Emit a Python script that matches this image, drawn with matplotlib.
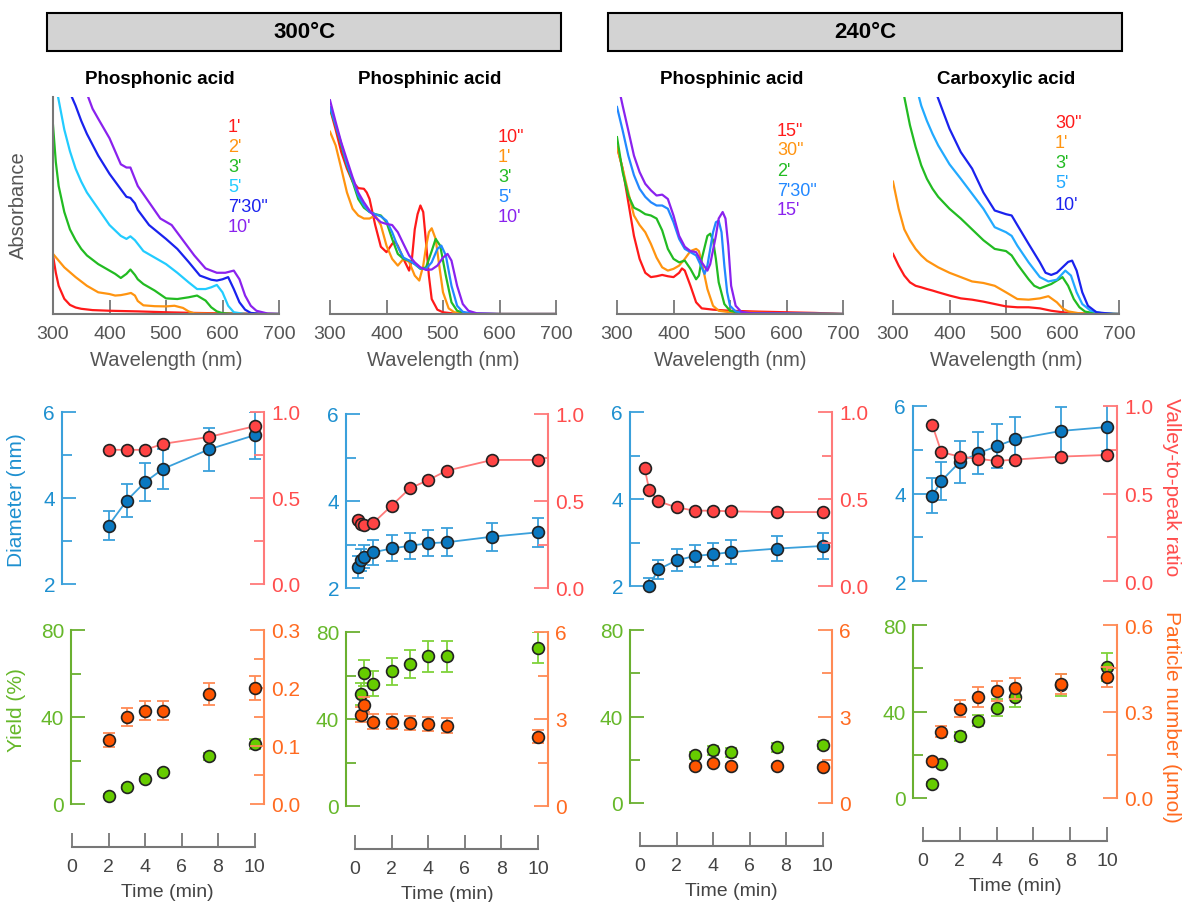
import matplotlib
matplotlib.use("Agg")
import matplotlib.pyplot as plt
from matplotlib.patches import Rectangle
from matplotlib.ticker import FormatStrFormatter

plt.rcParams['font.family'] = ['Liberation Sans', 'DejaVu Sans']

# --- UV-vis spectra, (wavelength nm, absorbance scaled to panel height) ---
# 300 C, phosphonic acid
phon_1m = [(300, .27), (305, .19), (310, .13), (320, .07), (330, .042), (340, .03), (350, .024), (370, .018),
           (400, .015), (450, .012), (500, .008), (550, .005), (600, .003), (700, 0)]
phon_2m = [(300, .277), (320, .215), (340, .17), (360, .13), (380, .10), (400, .092), (410, .085), (420, .087),
           (430, .092), (438, .097), (445, .085), (450, .06), (460, .04), (480, .036), (500, .035), (515, .038),
           (530, .028), (540, .012), (550, .003), (600, 0), (700, 0)]
phon_3m = [(300, .87), (305, .70), (310, .59), (320, .47), (330, .39), (340, .34), (350, .30), (360, .27),
           (380, .23), (400, .20), (410, .185), (420, .166), (430, .185), (437, .205), (445, .18), (450, .16),
           (460, .138), (480, .108), (500, .072), (520, .069), (540, .077), (555, .085), (570, .062), (580, .031),
           (590, .012), (600, .004), (620, 0), (700, 0)]
phon_5m = [(305, 1.05), (309, 1.0), (320, .85), (330, .75), (340, .67), (350, .61), (360, .56), (380, .485),
           (400, .41), (420, .36), (430, .346), (437, .358), (445, .34), (460, .29), (480, .26), (500, .23),
           (520, .19), (540, .146), (555, .115), (570, .115), (580, .123), (590, .134), (600, .10), (610, .038),
           (620, .008), (640, 0), (700, 0)]
phon_7m30 = [(330, 1.02), (340, .96), (350, .89), (360, .83), (380, .73), (400, .646), (420, .575), (430, .54),
             (437, .535), (445, .51), (450, .48), (470, .41), (500, .346), (520, .30), (540, .24), (560, .177),
             (580, .158), (590, .154), (600, .16), (610, .17), (620, .115), (630, .054), (640, .02), (650, .005),
             (670, 0), (700, 0)]
phon_10m = [(358, 1.03), (370, .946), (380, .90), (400, .81), (420, .69), (430, .675), (437, .675), (450, .59),
            (470, .515), (490, .44), (510, .41), (530, .34), (550, .27), (570, .21), (590, .19), (605, .19),
            (620, .20), (630, .16), (640, .085), (650, .038), (660, .015), (680, .002), (700, 0)]

# 300 C, phosphinic acid
phin_10s = [(300, .946), (310, .85), (320, .746), (330, .67), (340, .61), (350, .58), (360, .577), (365, .56),
            (370, .53), (380, .41), (390, .31), (400, .285), (410, .323), (415, .334), (420, .315), (430, .254),
            (440, .20), (445, .254), (450, .39), (455, .46), (460, .50), (465, .47), (470, .33), (475, .177),
            (480, .069), (490, .02), (500, .008), (520, .002), (550, 0), (700, 0)]
phin_1m = [(300, .84), (310, .777), (320, .67), (330, .56), (340, .485), (350, .454), (360, .44), (370, .44),
           (380, .454), (390, .41), (400, .315), (410, .254), (420, .223), (430, .254), (440, .24), (450, .177),
           (458, .154), (465, .223), (470, .31), (475, .377), (480, .395), (487, .346), (495, .192), (500, .10),
           (510, .026), (520, .008), (540, .002), (600, 0), (700, 0)]
phin_3m = [(300, .946), (310, .87), (320, .777), (330, .685), (340, .61), (350, .53), (360, .49), (370, .47),
           (380, .46), (390, .454), (400, .423), (410, .346), (420, .277), (430, .254), (440, .246), (450, .23),
           (460, .208), (470, .215), (480, .29), (487, .346), (495, .315), (505, .177), (515, .054), (525, .015),
           (540, .003), (560, 0), (700, 0)]
phin_5m = [(300, .954), (310, .87), (320, .785), (330, .69), (340, .62), (350, .546), (360, .50), (370, .47),
           (380, .46), (390, .45), (400, .43), (410, .377), (420, .31), (430, .26), (440, .246), (450, .23),
           (460, .21), (470, .208), (480, .238), (490, .30), (497, .315), (505, .27), (515, .13), (525, .038),
           (535, .01), (550, .003), (600, 0), (700, 0)]
phin_10m = [(300, .985), (310, .885), (320, .79), (330, .71), (340, .63), (350, .56), (360, .515), (370, .477),
            (380, .446), (390, .423), (400, .415), (410, .41), (420, .377), (430, .323), (440, .27), (450, .238),
            (460, .215), (470, .203), (480, .205), (490, .223), (500, .26), (508, .277), (515, .246), (525, .13),
            (535, .046), (545, .015), (560, .003), (600, 0), (700, 0)]

# 240 C, phosphinic acid
phin240_15s = [(300, .77), (310, .67), (320, .515), (330, .36), (340, .254), (350, .19), (360, .17), (370, .174),
               (380, .18), (390, .174), (400, .17), (410, .19), (415, .21), (420, .20), (430, .13), (440, .054),
               (450, .026), (470, .02), (500, .015), (550, .011), (600, .008), (650, .005), (700, 0)]
phin240_30s = [(300, .77), (310, .67), (320, .56), (330, .454), (340, .41), (350, .377), (360, .323), (370, .26),
               (380, .215), (390, .20), (400, .208), (410, .223), (420, .254), (430, .29), (440, .30), (445, .29),
               (450, .238), (460, .115), (470, .038), (480, .015), (500, .008), (600, .003), (700, 0)]
phin240_2m = [(300, .815), (310, .654), (320, .546), (330, .49), (340, .477), (350, .46), (360, .454), (370, .44),
              (380, .385), (390, .30), (400, .254), (410, .238), (420, .246), (430, .208), (440, .16), (445, .177),
              (450, .254), (460, .36), (465, .37), (470, .34), (475, .254), (480, .146), (490, .046), (500, .015),
              (520, .003), (700, 0)]
phin240_7m30 = [(300, .954), (310, .846), (320, .73), (330, .64), (340, .577), (350, .54), (360, .515), (370, .50),
                (380, .50), (390, .485), (400, .423), (410, .346), (420, .30), (430, .285), (440, .27), (450, .215),
                (455, .185), (460, .223), (470, .377), (475, .423), (480, .43), (485, .377), (490, .223), (495, .10),
                (500, .038), (510, .012), (530, .003), (700, 0)]
phin240_15m = [(305, 1.02), (310, .96), (320, .846), (330, .73), (340, .654), (350, .60), (360, .57), (370, .546),
               (380, .55), (390, .53), (400, .454), (410, .36), (420, .31), (430, .29), (440, .285), (450, .238),
               (460, .20), (465, .23), (475, .36), (480, .44), (487, .47), (492, .44), (497, .315), (502, .13),
               (510, .038), (520, .01), (540, .003), (700, 0)]

# 240 C, carboxylic acid
carb_30s = [(300, .277), (310, .223), (320, .177), (330, .146), (340, .13), (350, .123), (360, .115), (370, .108),
            (380, .10), (400, .085), (420, .072), (440, .066), (460, .057), (480, .046), (500, .035), (520, .031),
            (540, .031), (560, .026), (580, .015), (600, .008), (620, .003), (700, 0)]
carb_1m = [(300, .61), (310, .485), (320, .39), (330, .34), (340, .30), (350, .27), (360, .246), (380, .215),
           (400, .19), (420, .17), (440, .15), (460, .143), (480, .13), (500, .10), (520, .069), (540, .066),
           (560, .072), (575, .082), (590, .054), (600, .026), (610, .012), (630, .003), (700, 0)]
carb_3m = [(318, 1.02), (320, 1.0), (330, .87), (340, .77), (350, .685), (360, .623), (370, .577), (380, .54),
           (400, .485), (420, .44), (440, .39), (460, .34), (480, .30), (500, .29), (510, .27), (520, .23),
           (540, .16), (550, .13), (560, .118), (580, .138), (600, .17), (610, .13), (620, .069), (630, .031),
           (640, .011), (660, .002), (700, 0)]
carb_5m = [(343, 1.02), (346, 1.0), (350, .96), (360, .89), (370, .83), (380, .777), (400, .69), (420, .623),
           (440, .554), (460, .485), (480, .40), (500, .377), (510, .36), (520, .315), (540, .238), (560, .17),
           (575, .15), (590, .158), (605, .20), (615, .177), (625, .10), (635, .046), (650, .015), (670, .003),
           (700, 0)]
carb_10m = [(376, 1.02), (379, 1.0), (390, .923), (400, .854), (420, .746), (440, .67), (460, .56), (480, .477),
            (500, .46), (510, .454), (520, .41), (540, .323), (560, .238), (570, .19), (580, .18), (590, .19),
            (600, .215), (610, .24), (617, .246), (625, .20), (635, .10), (645, .038), (660, .008), (690, 0),
            (700, 0)]

# --- Kinetics: diameter / valley-to-peak ratio (middle), yield / particle number (bottom) ---
t_phon = [2, 3, 4, 5, 7.5, 10]
diam_phon = [3.36, 3.94, 4.37, 4.68, 5.13, 5.46]
diam_phon_err = [0.34, 0.38, 0.45, 0.47, 0.50, 0.55]
ratio_phon = [0.78, 0.78, 0.78, 0.815, 0.855, 0.917]
yield_phon = [3.8, 7.9, 11.5, 14.8, 21.9, 27.6]
yield_phon_err = [0.8, 0.8, 0.8, 0.8, 1.5, 2.5]
num_phon = [0.110, 0.150, 0.161, 0.161, 0.189, 0.200]
num_phon_err = [0.012, 0.015, 0.016, 0.016, 0.019, 0.020]

t_phin = [1/6, 1/3, 0.5, 1, 2, 3, 4, 5, 7.5, 10]
diam_phin = [2.48, 2.65, 2.72, 2.82, 2.91, 2.97, 3.03, 3.05, 3.18, 3.28]
diam_phin_err = [0.25, 0.25, 0.27, 0.28, 0.30, 0.30, 0.30, 0.32, 0.32, 0.33]
ratio_phin = [0.393, 0.368, 0.362, 0.374, 0.473, 0.573, 0.62, 0.674, 0.736, 0.736]
t_phin_y = [1/3, 0.5, 1, 2, 3, 4, 5, 10]
yield_phin = [51.5, 61.1, 56.2, 62.0, 65.4, 68.8, 68.8, 72.8]
yield_phin_err = [5.2, 5.8, 5.7, 6.2, 6.5, 7.0, 7.0, 7.2]
num_phin = [3.15, 3.5, 2.91, 2.91, 2.86, 2.83, 2.77, 2.39]
num_phin_err = [0.25, 0.25, 0.25, 0.25, 0.25, 0.25, 0.25, 0.22]

t_phin240_r = [0.25, 0.5, 1, 2, 3, 4, 5, 7.5, 10]
ratio_phin240 = [0.679, 0.554, 0.487, 0.452, 0.433, 0.433, 0.429, 0.425, 0.425]
t_phin240_d = [0.5, 1, 2, 3, 4, 5, 7.5, 10]
diam_phin240 = [2.0, 2.38, 2.59, 2.69, 2.73, 2.78, 2.86, 2.92]
diam_phin240_err = [0.19, 0.22, 0.25, 0.26, 0.26, 0.27, 0.29, 0.29]
t_phin240_y = [3, 4, 5, 7.5, 10]
yield_phin240 = [22.0, 24.4, 23.5, 25.8, 26.9]
yield_phin240_err = [1.5, 2.0, 2.0, 2.0, 2.0]
num_phin240 = [1.30, 1.38, 1.30, 1.30, 1.26]
num_phin240_err = [0.05, 0.05, 0.05, 0.05, 0.05]

t_carb = [0.5, 1, 2, 3, 4, 5, 7.5, 10]
diam_carb = [3.95, 4.29, 4.72, 4.92, 5.08, 5.24, 5.43, 5.52]
diam_carb_err = [0.40, 0.44, 0.48, 0.48, 0.50, 0.51, 0.54, 0.54]
ratio_carb = [0.893, 0.736, 0.711, 0.698, 0.686, 0.694, 0.711, 0.72]
yield_carb = [6.6, 15.7, 28.5, 35.7, 41.8, 46.8, 52.3, 60.6]
yield_carb_err = [1.0, 1.0, 2.0, 2.5, 4.0, 4.5, 5.0, 6.5]
num_carb = [0.129, 0.23, 0.31, 0.35, 0.37, 0.38, 0.395, 0.42]
num_carb_err = [0.005, 0.02, 0.03, 0.035, 0.035, 0.035, 0.035, 0.035]

# --- colours ---
RED, ORANGE, GREEN = '#ff1a1a', '#ff9410', '#22bb22'
CYAN, SKY, AZURE = '#22ccff', '#22aaff', '#2288ff'
BLUE, PURPLE = '#1a22ee', '#8a22ee'
GRAY, GRAY_TXT = '#777777', '#555555'
D_COL, D_TXT, D_FACE = '#3aa0db', '#1e90d0', '#0a78c0'
R_COL, R_TXT, R_FACE = '#ff7a7a', '#ff4d4d', '#ff4444'
Y_COL, Y_TXT, Y_FACE = '#6ab030', '#66b82a', '#66cc00'
N_COL, N_TXT, N_FACE = '#ff8a55', '#ff6a20', '#ff5500'

W, H = 1184, 903
fig = plt.figure(figsize=(W / 100, H / 100), dpi=100)


def px_axes(l, t, r, b):
    return fig.add_axes([l / W, 1 - b / H, (r - l) / W, (b - t) / H])


# --- header boxes ---
for x0, x1, txt in [(47, 561, '300°C'), (608, 1122, '240°C')]:
    fig.patches.append(Rectangle((x0 / W, 1 - 52 / H), (x1 - x0) / W, 38 / H, transform=fig.transFigure,
                                 facecolor='#d3d3d3', edgecolor='black', linewidth=1.5))
    fig.text((x0 + x1) / 2 / W, 1 - 33 / H, txt, ha='center', va='center', fontsize=16, fontweight='bold')

# --- spectra row ---
spec_panels = [
    (53, 'Phosphonic acid', 160,
     [(phon_1m, "1'", RED), (phon_2m, "2'", ORANGE), (phon_3m, "3'", GREEN), (phon_5m, "5'", CYAN),
      (phon_7m30, "7'30\"", BLUE), (phon_10m, "10'", PURPLE)],
     228, [127, 148, 168, 188, 208, 228]),
    (330, 'Phosphinic acid', 430,
     [(phin_10s, '10"', RED), (phin_1m, "1'", ORANGE), (phin_3m, "3'", GREEN), (phin_5m, "5'", AZURE),
      (phin_10m, "10'", PURPLE)],
     498, [138, 158, 178, 198, 218]),
    (617, 'Phosphinic acid', 732,
     [(phin240_15s, '15"', RED), (phin240_30s, '30"', ORANGE), (phin240_2m, "2'", GREEN),
      (phin240_7m30, "7'30\"", AZURE), (phin240_15m, "15'", PURPLE)],
     777, [131, 151, 171, 191, 211]),
    (893, 'Carboxylic acid', 1006,
     [(carb_30s, '30"', RED), (carb_1m, "1'", ORANGE), (carb_3m, "3'", GREEN), (carb_5m, "5'", SKY),
      (carb_10m, "10'", BLUE)],
     1055, [123, 143, 163, 184, 205]),
]

for i, (left, title, tx, curves, lx, ly) in enumerate(spec_panels):
    ax = px_axes(left, 98, left + 226, 315)
    for data, lab, col in curves:
        wl = [p[0] for p in data]
        ab = [p[1] for p in data]
        ax.plot(wl, ab, color=col, lw=1.6)
    ax.set_xlim(300, 700)
    ax.set_ylim(0, 1)
    ax.set_xticks([300, 400, 500, 600, 700])
    ax.set_yticks([])
    for s in ['top', 'right']:
        ax.spines[s].set_visible(False)
    ax.spines['left'].set_visible(i == 0)
    ax.spines['left'].set_color(GRAY)
    ax.spines['left'].set_linewidth(1.5)
    ax.spines['bottom'].set_color(GRAY)
    ax.spines['bottom'].set_linewidth(1.5)
    ax.tick_params(axis='x', direction='in', length=10, width=1.3, color=GRAY, labelcolor=GRAY_TXT,
                   labelsize=14, pad=8)
    ax.set_xlabel('Wavelength (nm)', fontsize=14.5, color=GRAY_TXT, labelpad=6)
    fig.text(tx / W, 1 - 80 / H, title, ha='center', va='center', fontsize=13.5, fontweight='bold')
    for (data, lab, col), y in zip(curves, ly):
        fig.text(lx / W, 1 - y / H, lab, color=col, fontsize=13, ha='left', va='center')

fig.text(18 / W, 1 - 205 / H, 'Absorbance', rotation=90, ha='center', va='center', fontsize=14.5, color=GRAY_TXT)

# --- kinetics rows ---
mid_boxes = [(62, 413, 264, 585), (346, 415, 548, 589), (630, 413, 832, 587), (913, 407, 1117, 582)]
bot_boxes = [(71, 631, 264, 805), (346, 633, 548, 807), (630, 631, 832, 804), (913, 626, 1117, 799)]
t_zero = [72, 355, 640, 923]
t_scale = [18.25, 18.3, 18.25, 18.4]

mid_data = [
    (t_phon, diam_phon, diam_phon_err, t_phon, ratio_phon),
    (t_phin, diam_phin, diam_phin_err, t_phin, ratio_phin),
    (t_phin240_d, diam_phin240, diam_phin240_err, t_phin240_r, ratio_phin240),
    (t_carb, diam_carb, diam_carb_err, t_carb, ratio_carb),
]
bot_data = [
    (t_phon, yield_phon, yield_phon_err, num_phon, num_phon_err, (0, 0.3), [0, 0.1, 0.2, 0.3],
     [0.05, 0.15, 0.25], '%.1f'),
    (t_phin_y, yield_phin, yield_phin_err, num_phin, num_phin_err, (0, 6), [0, 3, 6], [1.5, 4.5], '%d'),
    (t_phin240_y, yield_phin240, yield_phin240_err, num_phin240, num_phin240_err, (0, 6), [0, 3, 6],
     [1.5, 4.5], '%d'),
    (t_carb, yield_carb, yield_carb_err, num_carb, num_carb_err, (0, 0.6), [0, 0.3, 0.6], [0.15, 0.45], '%.1f'),
]


def style_y(ax, side, col, txt, ticks, minor, fmt=None):
    for s in ['top', 'bottom', 'left', 'right']:
        ax.spines[s].set_visible(s == side)
    ax.spines[side].set_color(col)
    ax.spines[side].set_linewidth(1.5)
    ax.set_yticks(ticks)
    ax.set_yticks(minor, minor=True)
    if fmt:
        ax.yaxis.set_major_formatter(FormatStrFormatter(fmt))
    ax.tick_params(axis='y', which='major', direction='in', length=10, width=1.3, color=col,
                   labelcolor=txt, labelsize=15, pad=5)
    ax.tick_params(axis='y', which='minor', direction='in', length=7, width=1.3, color=col)


MK = dict(marker='o', ms=8.5, mec='#222222', mew=1.2)

for c in range(4):
    xl = lambda box: ((box[0] - t_zero[c]) / t_scale[c], (box[2] - t_zero[c]) / t_scale[c])

    # middle: diameter + valley-to-peak ratio
    box = mid_boxes[c]
    ax = px_axes(*box)
    ax2 = ax.twinx()
    ax.set_xlim(*xl(box))
    ax.set_xticks([])
    ax.set_ylim(2, 6)
    ax2.set_ylim(0, 1)
    td, d, derr, tr, r = mid_data[c]
    ax.errorbar(td, d, yerr=derr, fmt='none', ecolor=D_COL, elinewidth=1.3, capsize=4, capthick=1.3)
    ax.plot(td, d, color=D_COL, lw=1.3, mfc=D_FACE, clip_on=False, zorder=4, **MK)
    ax2.plot(tr, r, color=R_COL, lw=1.3, mfc=R_FACE, clip_on=False, zorder=4, **MK)
    style_y(ax, 'left', D_COL, D_TXT, [2, 4, 6], [3, 5])
    style_y(ax2, 'right', R_COL, R_TXT, [0, 0.5, 1.0], [0.25, 0.75], '%.1f')

    # bottom: yield + particle number
    box = bot_boxes[c]
    ax = px_axes(*box)
    ax2 = ax.twinx()
    ax.set_xlim(*xl(box))
    ax.set_ylim(0, 80)
    ty, yv, yerr, nv, nerr, nlim, nticks, nminor, nfmt = bot_data[c]
    ax2.set_ylim(*nlim)
    ax.errorbar(ty, yv, yerr=yerr, fmt='none', ecolor='#7fd23a', elinewidth=1.3, capsize=4, capthick=1.3)
    ax.plot(ty, yv, ls='none', mfc=Y_FACE, clip_on=False, zorder=4, **MK)
    ax2.errorbar(ty, nv, yerr=nerr, fmt='none', ecolor=N_COL, elinewidth=1.3, capsize=4, capthick=1.3)
    ax2.plot(ty, nv, ls='none', mfc=N_FACE, clip_on=False, zorder=4, **MK)
    style_y(ax, 'left', Y_COL, Y_TXT, [0, 40, 80], [20, 60])
    style_y(ax2, 'right', N_COL, N_TXT, nticks, nminor, nfmt)
    ax.spines['bottom'].set_visible(True)
    ax.spines['bottom'].set_position(('outward', 31))
    ax.spines['bottom'].set_bounds(0, 10)
    ax.spines['bottom'].set_color(GRAY)
    ax.spines['bottom'].set_linewidth(1.5)
    ax.set_xticks([0, 2, 4, 6, 8, 10])
    ax.tick_params(axis='x', direction='in', length=10, width=1.3, color=GRAY, labelcolor='#444444',
                   labelsize=14, pad=8)
    ax.set_xlabel('Time (min)', fontsize=14, color='#444444', labelpad=6)

fig.text(17 / W, 1 - 500 / H, 'Diameter (nm)', rotation=90, ha='center', va='center', fontsize=15, color=D_TXT)
fig.text(17 / W, 1 - 710 / H, 'Yield (%)', rotation=90, ha='center', va='center', fontsize=15, color=Y_TXT)
fig.text(1172 / W, 1 - 487 / H, 'Valley-to-peak ratio', rotation=270, ha='center', va='center', fontsize=15,
         color=R_TXT)
fig.text(1172 / W, 1 - 717 / H, 'Particle number (µmol)', rotation=270, ha='center', va='center', fontsize=15,
         color=N_TXT)

fig.savefig('out.png', dpi=100)
